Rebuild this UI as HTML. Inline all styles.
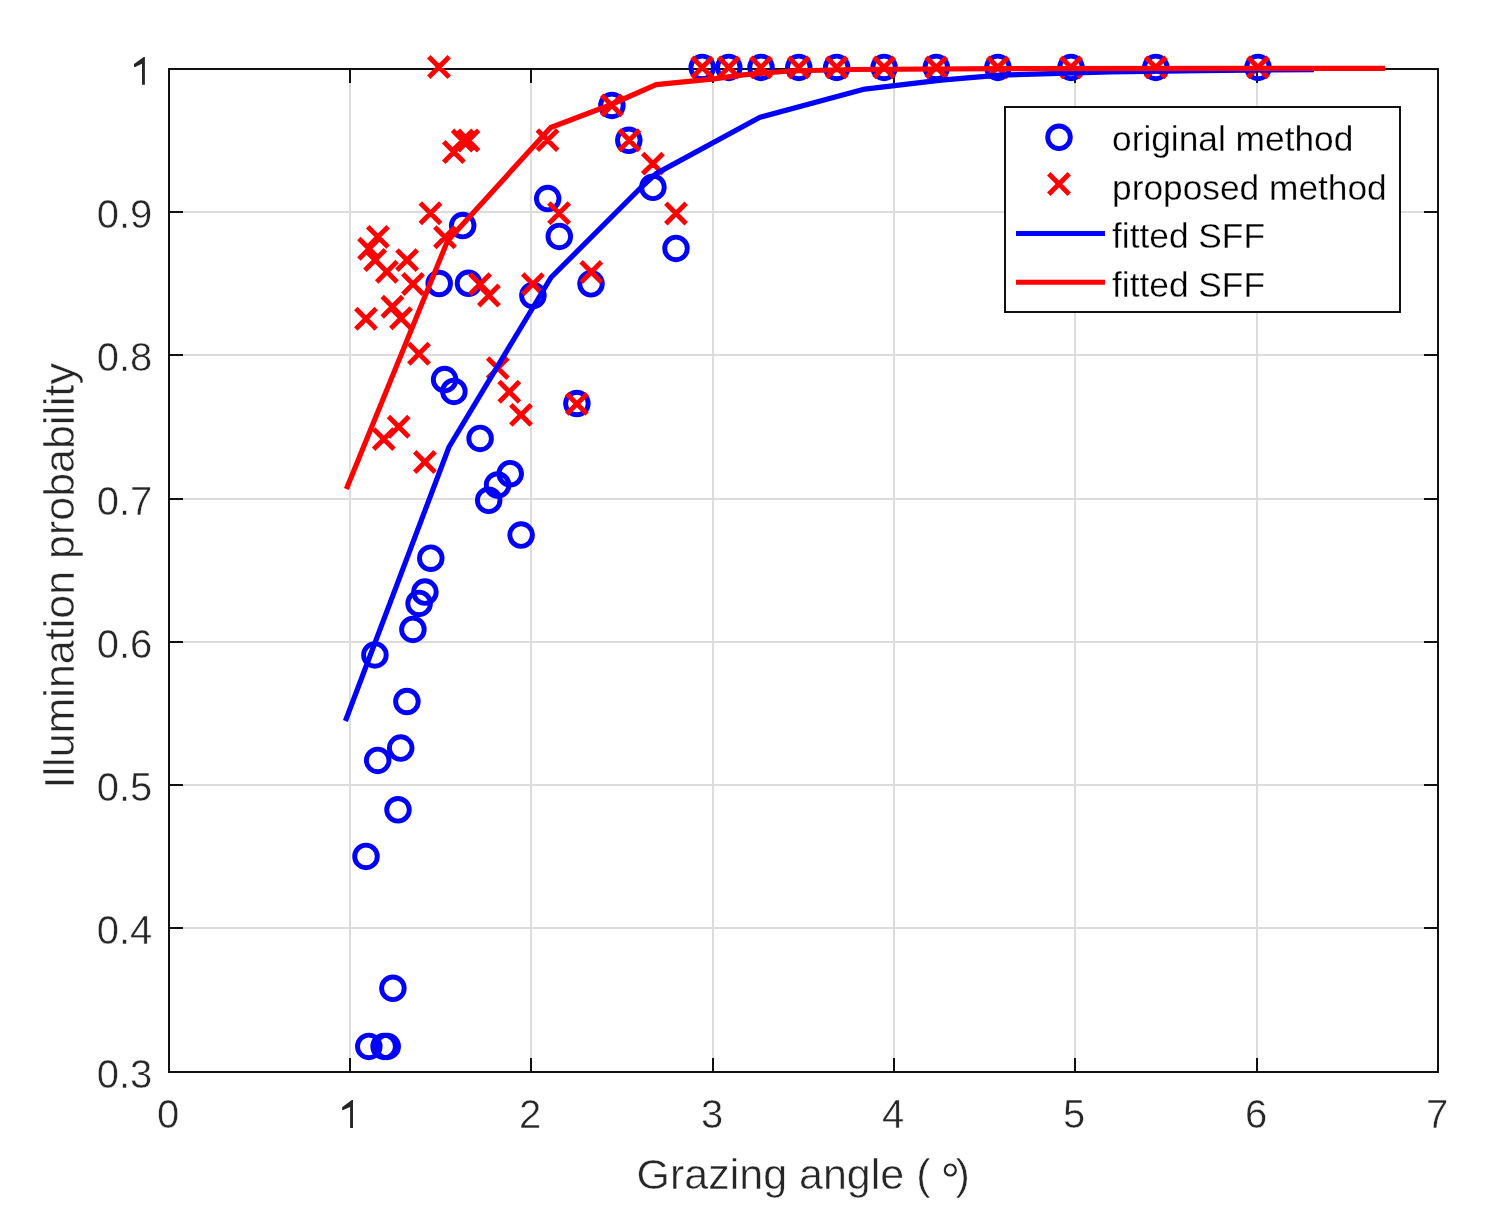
<!DOCTYPE html>
<html><head><meta charset="utf-8"><style>
html,body{margin:0;padding:0;background:#fff;}
svg{display:block;font-family:"Liberation Sans",sans-serif;will-change:transform;}
</style></head><body>
<svg width="1493" height="1222" viewBox="0 0 1493 1222">
<rect width="1493" height="1222" fill="#fff"/>
<path d="M350 70V1071 M531 70V1071 M713 70V1071 M894 70V1071 M1075 70V1071 M1257 70V1071 M170 928H1437 M170 785H1437 M170 642H1437 M170 499H1437 M170 355H1437 M170 212H1437" stroke="#dcdcdc" stroke-width="2" fill="none"/>
<path d="M169 928h14M1438 928h-14 M169 785h14M1438 785h-14 M169 642h14M1438 642h-14 M169 499h14M1438 499h-14 M169 355h14M1438 355h-14 M169 212h14M1438 212h-14 M350 1072v-14M350 69v14 M531 1072v-14M531 69v14 M713 1072v-14M713 69v14 M894 1072v-14M894 69v14 M1075 1072v-14M1075 69v14 M1257 1072v-14M1257 69v14" stroke="#111" stroke-width="2" fill="none"/>
<rect x="169" y="69" width="1269" height="1003" stroke="#111" stroke-width="2" fill="none"/>
<g stroke="#00f" stroke-width="4.9" fill="none"><circle cx="366" cy="856.4" r="11.3"/><circle cx="368.8" cy="1046.4" r="11.3"/><circle cx="384.1" cy="1046.4" r="11.3"/><circle cx="387.2" cy="1046.4" r="11.3"/><circle cx="392.9" cy="988.3" r="11.3"/><circle cx="398" cy="809.8" r="11.3"/><circle cx="377.7" cy="760.4" r="11.3"/><circle cx="400.7" cy="748.1" r="11.3"/><circle cx="406.9" cy="701.5" r="11.3"/><circle cx="374.9" cy="654.9" r="11.3"/><circle cx="412.9" cy="629.4" r="11.3"/><circle cx="419.1" cy="603.4" r="11.3"/><circle cx="424.9" cy="592.1" r="11.3"/><circle cx="430.8" cy="558.2" r="11.3"/><circle cx="439.2" cy="283.5" r="11.3"/><circle cx="444.6" cy="379.6" r="11.3"/><circle cx="453.9" cy="391.4" r="11.3"/><circle cx="462.7" cy="225.6" r="11.3"/><circle cx="468.5" cy="283.3" r="11.3"/><circle cx="480.1" cy="438.4" r="11.3"/><circle cx="488.7" cy="500.3" r="11.3"/><circle cx="497.6" cy="485" r="11.3"/><circle cx="510.2" cy="473.7" r="11.3"/><circle cx="521.1" cy="535.1" r="11.3"/><circle cx="532.9" cy="295.5" r="11.3"/><circle cx="547.7" cy="198.6" r="11.3"/><circle cx="559.3" cy="236.4" r="11.3"/><circle cx="576.9" cy="403.5" r="11.3"/><circle cx="591" cy="283.8" r="11.3"/><circle cx="611.9" cy="105.4" r="11.3"/><circle cx="628.8" cy="140.3" r="11.3"/><circle cx="652.9" cy="187.3" r="11.3"/><circle cx="676" cy="248.4" r="11.3"/><circle cx="702.2" cy="67.4" r="11.3"/><circle cx="728.8" cy="67.4" r="11.3"/><circle cx="761" cy="67.4" r="11.3"/><circle cx="798.8" cy="67.4" r="11.3"/><circle cx="836.7" cy="67.4" r="11.3"/><circle cx="884.1" cy="67.4" r="11.3"/><circle cx="936.3" cy="67.4" r="11.3"/><circle cx="997.9" cy="67.4" r="11.3"/><circle cx="1071" cy="67.4" r="11.3"/><circle cx="1155.8" cy="67.4" r="11.3"/><circle cx="1258" cy="67.4" r="11.3"/></g>
<path d="M428.8 56.8l20.4 20.4m0 -20.4l-20.4 20.4 M420.3 203.1l20.4 20.4m0 -20.4l-20.4 20.4 M367.7 226.7l20.4 20.4m0 -20.4l-20.4 20.4 M358.9 238.6l20.4 20.4m0 -20.4l-20.4 20.4 M364.9 249.8l20.4 20.4m0 -20.4l-20.4 20.4 M376.7 261.6l20.4 20.4m0 -20.4l-20.4 20.4 M396.9 249.9l20.4 20.4m0 -20.4l-20.4 20.4 M402.8 273.8l20.4 20.4m0 -20.4l-20.4 20.4 M434.8 227.1l20.4 20.4m0 -20.4l-20.4 20.4 M355.8 308.6l20.4 20.4m0 -20.4l-20.4 20.4 M382.2 296.6l20.4 20.4m0 -20.4l-20.4 20.4 M390.8 308l20.4 20.4m0 -20.4l-20.4 20.4 M408.8 343.6l20.4 20.4m0 -20.4l-20.4 20.4 M388.5 416.6l20.4 20.4m0 -20.4l-20.4 20.4 M373.6 428.9l20.4 20.4m0 -20.4l-20.4 20.4 M414.7 451.8l20.4 20.4m0 -20.4l-20.4 20.4 M443.7 141.8l20.4 20.4m0 -20.4l-20.4 20.4 M452.5 130.3l20.4 20.4m0 -20.4l-20.4 20.4 M458.2 130.3l20.4 20.4m0 -20.4l-20.4 20.4 M469.9 273.9l20.4 20.4m0 -20.4l-20.4 20.4 M478.7 285.3l20.4 20.4m0 -20.4l-20.4 20.4 M487.6 357.9l20.4 20.4m0 -20.4l-20.4 20.4 M499.1 381.6l20.4 20.4m0 -20.4l-20.4 20.4 M510.8 404.7l20.4 20.4m0 -20.4l-20.4 20.4 M522.7 273.9l20.4 20.4m0 -20.4l-20.4 20.4 M537.3 129.9l20.4 20.4m0 -20.4l-20.4 20.4 M548.9 203.1l20.4 20.4m0 -20.4l-20.4 20.4 M566.7 393.7l20.4 20.4m0 -20.4l-20.4 20.4 M581.1 261.8l20.4 20.4m0 -20.4l-20.4 20.4 M601.7 95.2l20.4 20.4m0 -20.4l-20.4 20.4 M619.1 130.1l20.4 20.4m0 -20.4l-20.4 20.4 M642.7 153.4l20.4 20.4m0 -20.4l-20.4 20.4 M665.8 203.3l20.4 20.4m0 -20.4l-20.4 20.4 M692 57.2l20.4 20.4m0 -20.4l-20.4 20.4 M718.6 57.2l20.4 20.4m0 -20.4l-20.4 20.4 M750.8 57.2l20.4 20.4m0 -20.4l-20.4 20.4 M788.6 57.2l20.4 20.4m0 -20.4l-20.4 20.4 M826.5 57.2l20.4 20.4m0 -20.4l-20.4 20.4 M873.9 57.2l20.4 20.4m0 -20.4l-20.4 20.4 M926.1 57.2l20.4 20.4m0 -20.4l-20.4 20.4 M987.7 57.2l20.4 20.4m0 -20.4l-20.4 20.4 M1060.8 57.2l20.4 20.4m0 -20.4l-20.4 20.4 M1145.6 57.2l20.4 20.4m0 -20.4l-20.4 20.4 M1247.8 57.2l20.4 20.4m0 -20.4l-20.4 20.4" stroke="#f00" stroke-width="4.9" fill="none"/>
<polyline points="345.4,721 449,447 551,277.5 641,187.5 656.1,173.6 760,117.3 864.8,89.1 941.1,80.1 1000,75.1 1110,72 1200,70.6 1314,69.6" stroke="#00f" stroke-width="5.2" fill="none" stroke-linejoin="round"/>
<polyline points="346.4,489 447.5,241 550.7,127.5 608.8,105.5 656.1,84.7 714,78.8 742.9,74.8 790,71 852.7,69.5 1000,68.6 1385,68.4" stroke="#f00" stroke-width="5.2" fill="none" stroke-linejoin="round"/>
<path d="M144.9 84.7V56.9H143.7L134.0 64.1V66.9H135.1L142.0 63.7V84.7ZM353 1127.9V1100.1H351.8L342.1 1107.3V1110.1H343.2L350.1 1106.9V1127.9Z" fill="#262626"/>
<g font-size="40" fill="#262626" stroke="#fff" stroke-width="0.5"><text x="152.3" y="1087.7" text-anchor="end">0.3</text><text x="152.3" y="943.7" text-anchor="end">0.4</text><text x="152.3" y="800.7" text-anchor="end">0.5</text><text x="152.3" y="657.7" text-anchor="end">0.6</text><text x="152.3" y="514.7" text-anchor="end">0.7</text><text x="152.3" y="370.7" text-anchor="end">0.8</text><text x="152.3" y="227.7" text-anchor="end">0.9</text><text x="168" y="1127.7" text-anchor="middle">0</text><text x="530" y="1127.7" text-anchor="middle">2</text><text x="712" y="1127.7" text-anchor="middle">3</text><text x="893" y="1127.7" text-anchor="middle">4</text><text x="1074" y="1127.7" text-anchor="middle">5</text><text x="1256" y="1127.7" text-anchor="middle">6</text><text x="1437" y="1127.7" text-anchor="middle">7</text></g>
<text x="0" y="0" font-size="43" fill="#262626" stroke="#fff" stroke-width="0.5" text-anchor="middle" transform="translate(74 575.7) rotate(-90)">Illumination probability</text>
<g font-size="43" fill="#262626" stroke="#fff" stroke-width="0.5"><text x="636.5" y="1188.7">Grazing angle (</text><text x="955.5" y="1188.7">)</text></g>
<circle cx="950.3" cy="1170" r="5.5" stroke="#262626" stroke-width="2.2" fill="none"/>
<rect x="1005" y="107" width="395" height="205" fill="#fff" stroke="#111" stroke-width="2"/><circle cx="1059" cy="137.3" r="11.3" stroke="#00f" stroke-width="4.9" fill="none"/><path d="M1048.8 173.8l20.4 20.4m0 -20.4l-20.4 20.4" stroke="#f00" stroke-width="4.9" fill="none"/><path d="M1016 233.5H1105" stroke="#00f" stroke-width="5"/><path d="M1016 282.3H1105" stroke="#f00" stroke-width="5"/><g font-size="35.3" fill="#000" stroke="#fff" stroke-width="0.3"><text x="1112" y="150.7">original method</text><text x="1112" y="199.7">proposed method</text><text x="1112" y="248">fitted SFF</text><text x="1112" y="296.8">fitted SFF</text></g>
</svg>
</body></html>
